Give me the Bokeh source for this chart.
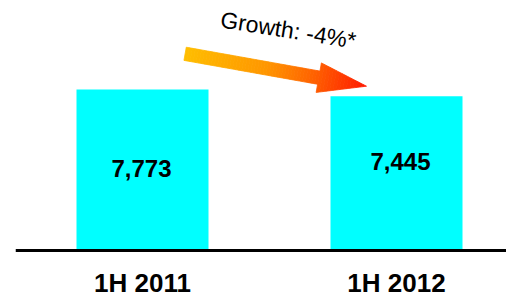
import numpy as np
from bokeh.plotting import figure
from bokeh.models import Span, Label, ColumnDataSource
from bokeh.core.properties import value
from bokeh.embed import file_html
from bokeh.resources import INLINE

# ---- data ----
categories = ["1H 2011", "1H 2012"]
revenue = [7773, 7445]
growth_text = "Growth: -4%*"

value_labels = [f"{v:,}" for v in revenue]
xs = list(range(len(categories)))

# ---- layout helpers (reference px -> data) ----
X_CENTER_PX = 142.0
X_UNIT_PX = 254.0
Y_PER_PX = 7773.0 / 161.0
BASE_PX = 250.0      # baseline row in reference


def dx(px):
    return (px - X_CENTER_PX) / X_UNIT_PX


def dy(py):
    return (BASE_PX - py) * Y_PER_PX


W, H = 506, 297
LEFT = 15
x_start, x_end = dx(LEFT), dx(W)
y_end = dy(0)
y_start = dy(H)

p = figure(width=W, height=H, x_range=(x_start, x_end), y_range=(y_start, y_end),
           x_axis_type=None, y_axis_type=None, toolbar_location=None,
           output_backend="svg", min_border_left=LEFT, min_border_right=0,
           min_border_top=0, min_border_bottom=0, outline_line_color=None,
           background_fill_color="white", border_fill_color="white")

# bars
src = ColumnDataSource(dict(x=xs, top=revenue, cat=categories, lab=value_labels,
                            ly=[v / 2 for v in revenue],
                            xo=[-1, 4], yo=[-1.6, -11.8]))
p.vbar(x="x", top="top", bottom=0, width=132 / X_UNIT_PX, source=src,
       fill_color="#00FFFF", line_color=None)

# value labels
p.text(x="x", y="ly", text="lab", source=src, x_offset="xo", y_offset="yo",
       text_font=value("Liberation Sans"), text_font_style="bold",
       text_font_size="24px", text_align="center", text_baseline="middle",
       text_color="black")

# baseline
p.add_layout(Span(location=0, dimension="width", line_color="black", line_width=3))

# category labels
p.text(x="x", y=0, text="cat", source=src, y_offset=32.5,
       text_font=value("Liberation Sans"), text_font_style="bold",
       text_font_size="26px", text_align="center", text_baseline="middle",
       text_color="black")

# gradient arrow
T = np.array([184.6, 53.3])
P = np.array([366.0, 85.7])
L = np.linalg.norm(P - T)
u = (P - T) / L
n = np.array([-u[1], u[0]])
shaft_hw, head_hw, head_len = 6.7, 15.0, 48.5
Ls = L - head_len

stops_t = [0.0, 0.45, 0.72, 1.0]
stops_g = [190, 150, 95, 25]
xs_list, ys_list, cols = [], [], []
shaft_br = np.linspace(0, Ls, 45)
head_br = np.linspace(Ls, L, 16)
segs = [(a, b, shaft_hw, shaft_hw) for a, b in zip(shaft_br[:-1], shaft_br[1:])]
segs += [(a, b, head_hw * (L - a) / head_len, head_hw * (L - b) / head_len)
         for a, b in zip(head_br[:-1], head_br[1:])]
for a, b, w0, w1 in segs:
    pts = [T + u * a + n * w0, T + u * b + n * w1, T + u * b - n * w1, T + u * a - n * w0]
    xs_list.append([dx(q[0]) for q in pts])
    ys_list.append([dy(q[1]) for q in pts])
    g = int(round(np.interp((a + b) / 2 / L, stops_t, stops_g)))
    cols.append("#%02x%02x%02x" % (255, g, 0))
p.patches(xs_list, ys_list, fill_color=cols, line_color=cols, line_width=0.8)

# growth label
p.add_layout(Label(x=dx(287.8), y=dy(29.5), text=growth_text, angle=-9, angle_units="deg",
                   text_font="Liberation Sans", text_font_size="23px",
                   text_align="center", text_baseline="middle", text_color="black"))

open("out.html", "w").write(file_html(p, INLINE))
